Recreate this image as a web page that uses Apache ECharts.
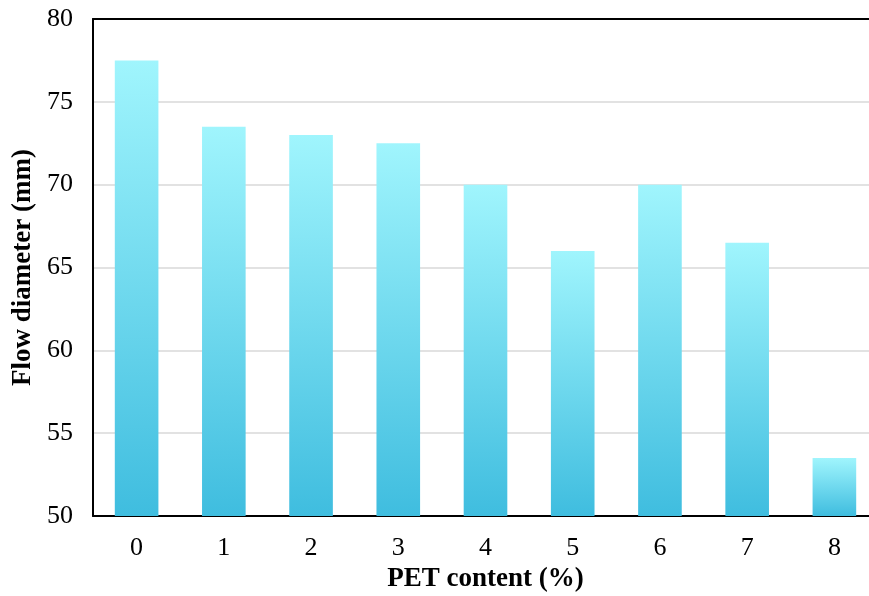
<!DOCTYPE html>
<html>
<head>
<meta charset="utf-8">
<script src="https://cdn.jsdelivr.net/npm/echarts@6/dist/echarts.min.js"></script>
<style>
  html, body { margin: 0; padding: 0; background: #fff; }
  #chart { width: 869px; height: 596px; }
</style>
</head>
<body>
<div id="chart"></div>
<script>
// PET content (%) on the x axis, flow diameter (mm) as bars
const categories = ['0', '1', '2', '3', '4', '5', '6', '7', '8'];
const flowDiameter = [77.5, 73.5, 73.0, 72.5, 70.0, 66.0, 70.0, 66.5, 53.5];
const yTicks = { min: 50, max: 80, interval: 5 };

const font = '"Liberation Serif", "Times New Roman", serif';

const chart = echarts.init(document.getElementById('chart'), null, { renderer: 'canvas' });

chart.setOption({
  animation: false,
  backgroundColor: '#ffffff',
  grid: {
    left: 93, top: 19, width: 785, height: 497,
    containLabel: false,
    outerBoundsMode: 'none'
  },
  xAxis: [
    {
      type: 'category',
      data: categories,
      position: 'bottom',
      name: 'PET content (%)',
      nameLocation: 'middle',
      nameGap: 48,
      nameTextStyle: { fontFamily: font, fontSize: 27, fontWeight: 'bold', color: '#000' },
      axisLine: { show: true, lineStyle: { color: '#000', width: 2 } },
      axisTick: { show: false },
      axisLabel: { fontFamily: font, fontSize: 26, color: '#000', margin: 19 },
      splitLine: { show: false }
    },
    {
      // plain line closing the frame along the top
      type: 'category',
      data: categories,
      position: 'top',
      axisLine: { show: true, onZero: false, lineStyle: { color: '#000', width: 2 } },
      axisTick: { show: false },
      axisLabel: { show: false },
      splitLine: { show: false }
    }
  ],
  yAxis: {
    type: 'value',
    min: yTicks.min,
    max: yTicks.max,
    interval: yTicks.interval,
    name: 'Flow diameter (mm)',
    nameLocation: 'middle',
    nameGap: 55,
    nameTextStyle: { fontFamily: font, fontSize: 27, fontWeight: 'bold', color: '#000' },
    axisLine: { show: true, lineStyle: { color: '#000', width: 2 } },
    axisTick: { show: false },
    axisLabel: { fontFamily: font, fontSize: 26, color: '#000', margin: 20 },
    splitLine: { show: true, lineStyle: { color: '#d9d9d9', width: 1.5 } }
  },
  series: [
    {
      type: 'bar',
      xAxisIndex: 0,
      data: flowDiameter,
      barWidth: '50%',
      itemStyle: {
        color: new echarts.graphic.LinearGradient(0, 0, 0, 1, [
          { offset: 0, color: '#a0f5fd' },
          { offset: 1, color: '#3fbddf' }
        ])
      }
    }
  ]
});
</script>
</body>
</html>
